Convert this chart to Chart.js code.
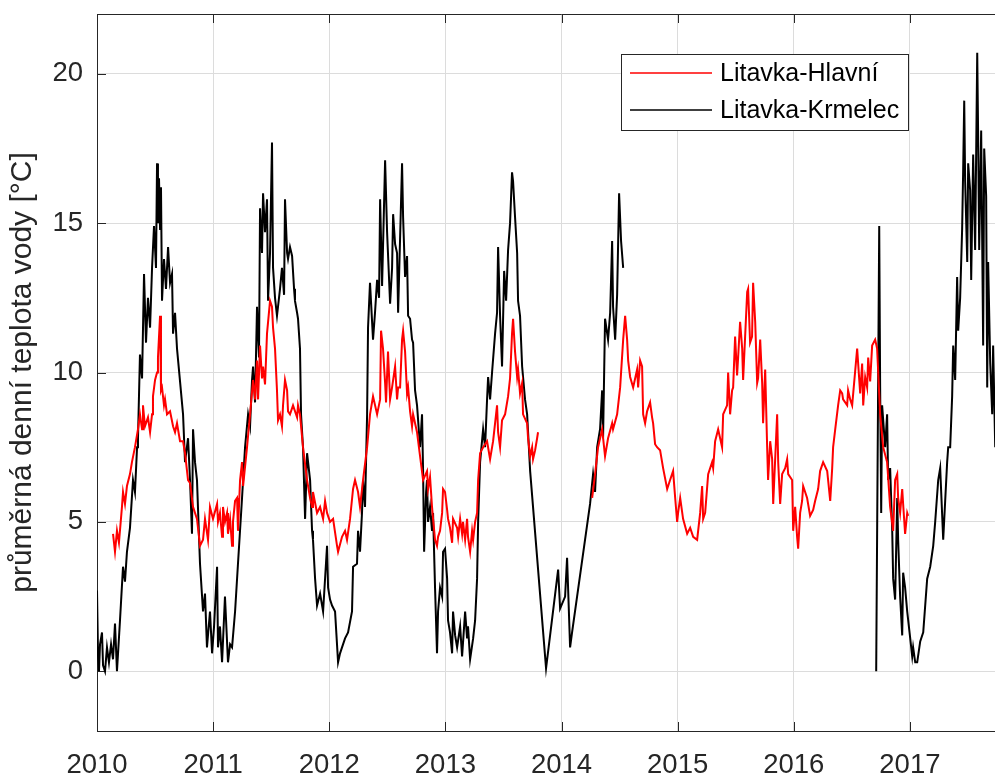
<!DOCTYPE html>
<html><head><meta charset="utf-8">
<script src="https://cdn.jsdelivr.net/npm/chart.js@4.4.1/dist/chart.umd.min.js"></script>
<style>
html,body{margin:0;padding:0;overflow:hidden;background:#fff;width:995px;height:778px}
#wrap{position:absolute;left:0;top:0;width:1040px;height:778px}
</style>
</head><body><div id="wrap"><canvas id="c" width="1040" height="778"></canvas></div>
<script>
// ---- data ----
const yearTicks = [2010, 2011, 2012, 2013, 2014, 2015, 2016, 2017];
const tempTicks = [0, 5, 10, 15, 20];
const seriesNames = ['Litavka-Hlavní', 'Litavka-Krmelec'];
const yTitle = 'průměrná denní teplota vody [°C]';

// [decimal year, mean daily water temperature °C]; null = no data
const hlavni = [
[2010.138,4.6],[2010.155,4.0],[2010.172,4.7],[2010.189,4.3],[2010.215,5.5],[2010.224,6.0],[2010.241,5.6],[2010.258,6.2],[2010.284,6.6],[2010.301,7.0],[2010.327,7.5],[2010.353,8.1],[2010.370,8.6],[2010.388,8.1],[2010.396,8.9],[2010.413,8.2],[2010.439,8.5],[2010.457,8.0],[2010.474,8.6],[2010.482,9.2],[2010.500,9.75],[2010.517,10.0],[2010.525,10.5],[2010.543,11.9],[2010.551,9.4],[2010.560,9.5],[2010.577,8.9],[2010.586,9.1],[2010.603,8.6],[2010.629,8.7],[2010.655,8.2],[2010.672,8.0],[2010.689,8.3],[2010.715,7.7],[2010.741,7.7],[2010.758,7.3],[2010.784,6.4],[2010.801,6.3],[2010.827,5.5],[2010.861,5.1],[2010.887,4.2],[2010.913,4.4],[2010.930,5.1],[2010.956,4.4],[2010.973,5.5],[2010.999,5.1],
[2011.034,5.6],[2011.042,5.0],[2011.059,5.3],[2011.077,4.5],[2011.085,5.5],[2011.102,5.0],[2011.120,5.3],[2011.128,4.6],[2011.146,5.1],[2011.163,4.2],[2011.171,5.0],[2011.189,5.7],[2011.206,5.8],[2011.214,4.7],[2011.232,6.4],[2011.249,7.0],[2011.258,6.2],[2011.292,7.5],[2011.318,8.6],[2011.344,9.75],[2011.361,9.1],[2011.378,10.4],[2011.387,9.1],[2011.404,10.9],[2011.421,9.8],[2011.430,10.2],[2011.447,9.6],[2011.464,11.3],[2011.490,12.4],[2011.507,12.2],[2011.516,11.5],[2011.533,10.8],[2011.550,9.4],[2011.559,8.4],[2011.576,8.6],[2011.593,8.2],[2011.602,8.9],[2011.619,9.75],[2011.637,9.4],[2011.645,8.7],[2011.662,8.6],[2011.688,8.9],[2011.723,8.5],[2011.731,8.9],[2011.748,8.6],[2011.774,7.5],[2011.809,6.4],[2011.835,5.8],[2011.852,5.5],[2011.860,6.0],[2011.895,5.3],[2011.921,5.5],[2011.947,5.1],[2011.964,5.7],[2011.981,5.3],
[2012.007,5.0],[2012.033,5.1],[2012.067,4.2],[2012.076,4.0],[2012.110,4.5],[2012.136,4.7],[2012.153,4.4],[2012.179,5.1],[2012.205,6.1],[2012.222,6.4],[2012.248,6.0],[2012.265,5.5],[2012.291,6.4],[2012.326,7.5],[2012.351,8.6],[2012.377,9.2],[2012.412,8.6],[2012.438,9.1],[2012.446,11.4],[2012.463,10.8],[2012.481,9.65],[2012.489,9.0],[2012.506,10.7],[2012.524,9.1],[2012.541,9.5],[2012.567,10.2],[2012.584,9.1],[2012.593,9.5],[2012.610,9.5],[2012.627,11.1],[2012.636,11.4],[2012.653,10.7],[2012.670,9.3],[2012.679,9.5],[2012.696,8.7],[2012.713,8.2],[2012.722,8.6],[2012.756,8.0],[2012.782,7.2],[2012.808,6.4],[2012.842,6.7],[2012.851,6.1],[2012.868,6.5],[2012.885,5.5],[2012.894,5.1],[2012.911,4.4],[2012.928,4.2],[2012.937,4.5],[2012.954,4.7],[2012.972,5.3],[2012.980,6.1],[2012.997,6.0],
[2013.015,5.4],[2013.023,5.1],[2013.040,4.8],[2013.058,4.3],[2013.066,5.1],[2013.101,4.8],[2013.110,4.5],[2013.127,5.1],[2013.144,4.6],[2013.152,5.0],[2013.170,4.4],[2013.187,5.1],[2013.195,4.5],[2013.213,4.0],[2013.230,4.7],[2013.239,4.4],[2013.256,5.0],[2013.273,5.3],[2013.282,6.4],[2013.299,7.3],[2013.325,7.5],[2013.359,7.7],[2013.385,7.1],[2013.411,7.7],[2013.445,8.9],[2013.454,8.0],[2013.471,7.5],[2013.488,8.4],[2013.514,8.6],[2013.540,9.2],[2013.557,9.8],[2013.574,11.3],[2013.583,11.8],[2013.600,10.7],[2013.618,9.85],[2013.626,10.1],[2013.643,9.3],[2013.661,9.65],[2013.669,8.6],[2013.704,8.3],[2013.712,7.8],[2013.730,7.2],[2013.747,7.5],[2013.755,7.1],[2013.773,7.4],[2013.790,7.8],[2013.798,8.0],
[2014.000,null],
[2014.264,5.8],[2014.289,6.6],[2014.315,7.5],[2014.350,8.1],[2014.375,7.2],[2014.401,7.8],[2014.436,8.3],[2014.444,8.1],[2014.479,8.6],[2014.505,9.5],[2014.531,11.1],[2014.548,11.9],[2014.565,11.1],[2014.574,10.4],[2014.591,9.85],[2014.617,9.5],[2014.651,10.1],[2014.660,9.5],[2014.677,10.4],[2014.694,10.2],[2014.703,8.6],[2014.720,8.3],[2014.737,8.7],[2014.763,9.0],[2014.780,8.5],[2014.789,8.3],[2014.806,7.6],[2014.823,7.5],[2014.849,7.4],[2014.875,6.8],[2014.910,6.1],[2014.935,6.4],[2014.961,6.7],[2014.979,5.8],[2014.996,5.0],
[2015.004,5.3],[2015.022,5.8],[2015.047,5.1],[2015.082,4.6],[2015.108,4.8],[2015.134,4.5],[2015.168,4.4],[2015.194,5.3],[2015.211,6.2],[2015.220,5.1],[2015.237,5.3],[2015.263,6.6],[2015.297,7.0],[2015.306,6.8],[2015.323,7.7],[2015.349,8.1],[2015.366,7.8],[2015.383,7.5],[2015.392,8.6],[2015.426,8.9],[2015.435,10.0],[2015.452,8.6],[2015.469,9.4],[2015.478,9.5],[2015.495,11.2],[2015.512,9.9],[2015.521,10.5],[2015.538,11.7],[2015.556,10.8],[2015.564,9.75],[2015.599,12.7],[2015.607,12.8],[2015.624,11.0],[2015.641,11.2],[2015.650,13.0],[2015.668,11.7],[2015.685,9.65],[2015.693,9.8],[2015.711,11.1],[2015.728,9.65],[2015.736,8.3],[2015.754,10.1],[2015.771,7.5],[2015.779,6.4],[2015.797,7.7],[2015.814,7.1],[2015.823,5.6],[2015.857,8.6],[2015.866,7.0],[2015.883,5.6],[2015.900,6.6],[2015.926,6.8],[2015.943,7.1],[2015.952,6.6],[2015.986,6.4],[2015.995,4.7],
[2016.012,5.5],[2016.029,4.5],[2016.038,4.1],[2016.055,5.3],[2016.072,5.7],[2016.081,6.2],[2016.115,5.8],[2016.141,5.2],[2016.167,5.4],[2016.184,5.7],[2016.210,6.1],[2016.227,6.7],[2016.253,7.0],[2016.288,6.7],[2016.296,6.4],[2016.314,5.7],[2016.331,6.8],[2016.339,7.5],[2016.357,8.1],[2016.382,8.9],[2016.400,9.4],[2016.417,9.3],[2016.425,9.1],[2016.460,8.9],[2016.468,9.4],[2016.486,9.1],[2016.503,8.9],[2016.512,9.3],[2016.546,10.8],[2016.572,9.3],[2016.589,10.3],[2016.598,8.9],[2016.615,9.85],[2016.632,9.5],[2016.641,10.5],[2016.658,9.7],[2016.675,10.9],[2016.701,11.1],[2016.718,10.8],[2016.744,8.6],[2016.770,7.5],[2016.804,7.0],[2016.830,5.5],[2016.856,4.7],[2016.873,6.4],[2016.891,6.6],[2016.899,5.8],[2016.916,5.3],[2016.934,6.1],[2016.942,5.6],[2016.959,4.6],[2016.977,5.3],[2016.985,5.2]
];

const krmelec = [
[2010.000,2.7],[2010.009,0.5],[2010.017,0.0],[2010.026,0.9],[2010.043,1.3],[2010.052,0.2],[2010.069,0.0],[2010.086,0.8],[2010.103,0.3],[2010.121,0.9],[2010.138,0.4],[2010.155,1.6],[2010.172,0.0],[2010.198,1.7],[2010.224,3.5],[2010.241,3.0],[2010.258,4.0],[2010.284,4.8],[2010.310,6.4],[2010.327,6.0],[2010.345,7.5],[2010.353,7.8],[2010.370,10.6],[2010.388,9.8],[2010.405,13.3],[2010.422,11.0],[2010.439,12.5],[2010.457,11.5],[2010.474,13.5],[2010.491,14.9],[2010.508,13.5],[2010.517,17.0],[2010.525,15.0],[2010.534,16.5],[2010.543,14.8],[2010.551,16.2],[2010.560,12.4],[2010.577,13.8],[2010.594,12.8],[2010.612,14.2],[2010.629,13.0],[2010.646,13.3],[2010.655,11.3],[2010.672,12.0],[2010.689,10.8],[2010.715,9.7],[2010.741,8.6],[2010.758,7.0],[2010.784,7.8],[2010.801,6.4],[2010.818,4.6],[2010.827,8.1],[2010.844,7.0],[2010.861,6.4],[2010.887,3.6],[2010.913,2.0],[2010.930,2.6],[2010.947,0.8],[2010.973,2.0],[2010.991,0.6],
[2011.008,1.5],[2011.034,3.5],[2011.042,0.8],[2011.059,1.5],[2011.077,0.3],[2011.102,2.5],[2011.128,0.3],[2011.146,0.9],[2011.163,0.8],[2011.189,2.0],[2011.214,3.6],[2011.249,5.8],[2011.275,7.5],[2011.301,8.6],[2011.318,8.2],[2011.335,9.75],[2011.344,10.2],[2011.361,9.0],[2011.378,12.2],[2011.395,10.5],[2011.404,15.5],[2011.421,14.0],[2011.430,16.0],[2011.447,14.7],[2011.464,15.8],[2011.473,12.4],[2011.490,14.0],[2011.507,17.7],[2011.516,13.5],[2011.533,12.5],[2011.550,11.9],[2011.576,12.8],[2011.593,13.5],[2011.611,12.6],[2011.619,15.8],[2011.637,14.0],[2011.645,13.8],[2011.662,14.2],[2011.680,13.9],[2011.697,12.8],[2011.705,12.4],[2011.723,12.0],[2011.731,11.8],[2011.748,10.8],[2011.757,8.6],[2011.774,7.5],[2011.792,5.1],[2011.809,7.3],[2011.835,6.4],[2011.852,4.7],[2011.860,4.4],[2011.878,3.1],[2011.895,2.2],[2011.921,2.6],[2011.947,2.0],[2011.981,4.2],[2011.990,2.8],
[2012.007,2.4],[2012.024,2.2],[2012.050,2.0],[2012.076,0.3],[2012.093,0.6],[2012.110,0.8],[2012.136,1.1],[2012.162,1.3],[2012.196,2.0],[2012.205,3.5],[2012.239,3.6],[2012.248,4.7],[2012.265,4.0],[2012.282,5.3],[2012.291,6.4],[2012.308,5.5],[2012.326,8.6],[2012.334,11.5],[2012.351,13.0],[2012.377,11.1],[2012.394,12.0],[2012.412,13.1],[2012.429,12.5],[2012.438,15.8],[2012.455,12.9],[2012.481,17.1],[2012.498,14.7],[2012.524,12.3],[2012.541,13.5],[2012.550,15.3],[2012.567,14.3],[2012.584,14.0],[2012.593,12.0],[2012.627,17.0],[2012.636,15.2],[2012.653,13.2],[2012.670,13.9],[2012.679,11.9],[2012.696,11.8],[2012.713,11.1],[2012.722,11.0],[2012.739,9.4],[2012.756,8.9],[2012.782,7.5],[2012.799,8.6],[2012.808,6.7],[2012.817,4.0],[2012.834,6.0],[2012.842,6.4],[2012.851,5.0],[2012.868,5.5],[2012.885,4.7],[2012.894,5.3],[2012.911,2.8],[2012.928,0.6],[2012.937,2.0],[2012.954,2.8],[2012.972,2.5],[2012.980,4.0],[2012.997,4.1],
[2013.015,3.1],[2013.023,1.7],[2013.040,1.3],[2013.058,0.6],[2013.066,2.0],[2013.084,1.2],[2013.101,0.8],[2013.127,1.5],[2013.144,0.5],[2013.170,2.0],[2013.187,1.1],[2013.195,1.5],[2013.213,0.4],[2013.239,1.1],[2013.256,1.7],[2013.273,3.1],[2013.282,5.0],[2013.299,7.0],[2013.325,8.1],[2013.342,7.5],[2013.359,9.1],[2013.368,9.85],[2013.385,9.1],[2013.402,10.0],[2013.428,11.3],[2013.445,12.0],[2013.454,14.2],[2013.471,11.9],[2013.488,10.2],[2013.506,13.4],[2013.523,12.4],[2013.540,14.1],[2013.557,15.0],[2013.574,16.7],[2013.583,16.4],[2013.600,15.2],[2013.618,14.0],[2013.626,12.4],[2013.643,11.9],[2013.661,10.2],[2013.686,9.1],[2013.704,8.6],[2013.730,6.7],[2013.867,0.1],[2013.971,3.4],[2013.988,2.1],
[2014.031,2.5],[2014.048,3.8],[2014.074,0.8],[2014.091,1.3],[2014.246,5.6],[2014.272,6.6],[2014.289,6.0],[2014.307,7.5],[2014.332,8.1],[2014.350,9.4],[2014.358,7.8],[2014.375,11.8],[2014.401,11.1],[2014.419,12.0],[2014.436,14.4],[2014.444,12.2],[2014.462,11.1],[2014.479,12.6],[2014.496,16.0],[2014.513,14.4],[2014.531,13.5],
[2015.500,null],
[2016.710,0.0],[2016.736,14.9],[2016.744,9.5],[2016.753,5.3],[2016.761,8.9],[2016.787,7.5],[2016.804,8.6],[2016.813,6.4],[2016.830,6.8],[2016.848,4.7],[2016.856,3.1],[2016.873,2.4],[2016.891,5.8],[2016.899,4.4],[2016.916,2.5],[2016.934,1.2],[2016.942,3.3],[2016.959,2.8],[2016.977,2.0],
[2017.003,1.1],[2017.020,0.5],[2017.028,0.8],[2017.046,0.3],[2017.063,0.3],[2017.089,1.0],[2017.115,1.3],[2017.149,3.1],[2017.175,3.5],[2017.201,4.2],[2017.218,5.0],[2017.244,6.4],[2017.261,6.8],[2017.287,4.4],[2017.304,5.7],[2017.321,7.0],[2017.330,7.5],[2017.347,7.5],[2017.364,9.2],[2017.373,10.9],[2017.390,9.75],[2017.407,13.2],[2017.416,11.4],[2017.433,12.5],[2017.450,14.8],[2017.459,16.8],[2017.468,19.1],[2017.476,16.4],[2017.494,13.7],[2017.502,17.0],[2017.519,16.1],[2017.528,13.1],[2017.545,17.3],[2017.562,14.1],[2017.580,20.7],[2017.588,17.9],[2017.597,14.1],[2017.614,18.1],[2017.631,10.9],[2017.640,17.5],[2017.657,15.9],[2017.666,9.5],[2017.674,13.7],[2017.692,10.3],[2017.709,8.6],[2017.717,10.9],[2017.735,7.5],[2017.761,9.0]
];

// ---- styling ----
const FONT = '"Liberation Sans", Arial, Helvetica, sans-serif';
const AXIS = '#262626';
const GRID = '#dcdcdc';
const colors = ['#ff0000', '#000000'];

const toXY = arr => arr.map(p => ({x: p[0], y: p[1]}));

const frame = {
  id: 'frame',
  beforeDatasetsDraw(chart) {
    const {ctx, chartArea: a, scales: {x, y}} = chart;
    ctx.save();
    ctx.strokeStyle = AXIS;
    ctx.lineWidth = 1;
    ctx.beginPath();
    ctx.moveTo(a.left, a.top + 0.5); ctx.lineTo(a.right, a.top + 0.5);
    const TL = 9;
    yearTicks.forEach(v => {
      const px = Math.round(x.getPixelForValue(v)) + 0.5;
      ctx.moveTo(px, a.bottom); ctx.lineTo(px, a.bottom - TL);
      ctx.moveTo(px, a.top); ctx.lineTo(px, a.top + TL);
    });
    tempTicks.forEach(v => {
      const py = Math.round(y.getPixelForValue(v)) + 0.5;
      ctx.moveTo(a.left, py); ctx.lineTo(a.left + TL, py);
      ctx.moveTo(a.right, py); ctx.lineTo(a.right - TL, py);
    });
    ctx.stroke();
    ctx.restore();
  },
  afterDatasetsDraw(chart) {
    const ctx = chart.ctx;
    ctx.save();
    const L = 621, T = 54, R = 908, B = 130;
    ctx.fillStyle = '#fff';
    ctx.fillRect(L, T, R - L, B - T);
    ctx.strokeStyle = AXIS;
    ctx.lineWidth = 1;
    ctx.strokeRect(L + 0.5, T + 0.5, R - L, B - T);
    const rows = [73, 110];
    ctx.font = '25px ' + FONT;
    ctx.textBaseline = 'middle';
    ctx.textAlign = 'left';
    seriesNames.forEach((name, i) => {
      ctx.strokeStyle = colors[i];
      ctx.lineWidth = 1.5;
      ctx.beginPath();
      ctx.moveTo(630, rows[i]); ctx.lineTo(712, rows[i]);
      ctx.stroke();
      ctx.fillStyle = '#000';
      ctx.fillText(name, 720, rows[i] + 1);
    });
    ctx.restore();
  }
};

new Chart(document.getElementById('c'), {
  type: 'line',
  data: {
    datasets: [
      {label: seriesNames[0], data: toXY(hlavni), borderColor: colors[0], borderWidth: 2, pointRadius: 0, spanGaps: false, tension: 0, fill: false},
      {label: seriesNames[1], data: toXY(krmelec), borderColor: colors[1], borderWidth: 2, pointRadius: 0, spanGaps: false, tension: 0, fill: false}
    ]
  },
  options: {
    responsive: false,
    animation: false,
    devicePixelRatio: 1,
    layout: {padding: {top: 14, right: 14, left: 0, bottom: 0}},
    plugins: {legend: {display: false}, tooltip: {enabled: false}},
    scales: {
      x: {
        type: 'linear', min: 2010, max: 2018,
        afterBuildTicks: s => { s.ticks = yearTicks.map(v => ({value: v})); },
        afterFit: s => { s.height = 47; s.paddingLeft = 0; s.paddingRight = 0; },
        ticks: {callback: v => String(v), color: AXIS, font: {family: FONT, size: 27.5}, padding: 18, maxRotation: 0, autoSkip: false},
        grid: {color: GRID, lineWidth: 1, drawTicks: false},
        border: {display: true, color: AXIS, width: 1}
      },
      y: {
        type: 'linear', min: -2, max: 22,
        afterBuildTicks: s => { s.ticks = tempTicks.map(v => ({value: v})); },
        afterFit: s => { s.width = 97; s.paddingTop = 0; s.paddingBottom = 0; },
        ticks: {callback: v => String(v), color: AXIS, font: {family: FONT, size: 27.5}, padding: 14},
        grid: {color: GRID, lineWidth: 1, drawTicks: false},
        border: {display: true, color: AXIS, width: 1},
        title: {display: true, text: yTitle, color: AXIS, font: {family: FONT, size: 30}, padding: {top: 5, bottom: 0}}
      }
    }
  },
  plugins: [frame]
});
</script>
</body></html>
